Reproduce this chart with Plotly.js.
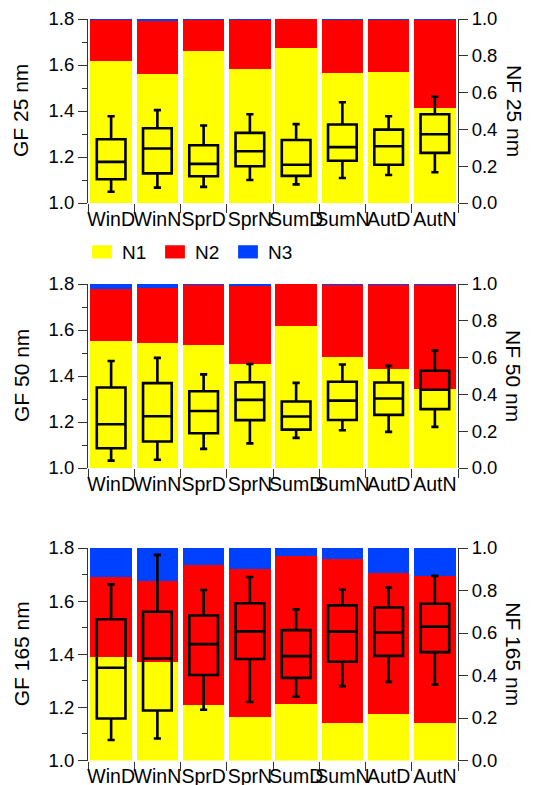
<!DOCTYPE html>
<html>
<head>
<meta charset="utf-8">
<script src="https://cdn.plot.ly/plotly-3.0.1.min.js"></script>
<style>
  html, body { margin: 0; padding: 0; background: #fff; }
  #chart { width: 538px; height: 785px; }
</style>
</head>
<body>
<div id="chart"></div>
<script>
// Seasonal day/night categories
const categories = ['WinD', 'WinN', 'SprD', 'SprN', 'SumD', 'SumN', 'AutD', 'AutN'];
const modeNames = ['N1', 'N2', 'N3'];

// Number fractions of the growth-factor modes (stacked bars, right axis)
const nf25_N1 = [0.770, 0.700, 0.824, 0.730, 0.842, 0.706, 0.711, 0.514];
const nf25_N2 = [0.227, 0.289, 0.173, 0.267, 0.156, 0.287, 0.282, 0.479];
const nf25_N3 = [0.003, 0.011, 0.003, 0.003, 0.002, 0.007, 0.007, 0.007];

const nf50_N1 = [0.688, 0.679, 0.666, 0.563, 0.773, 0.603, 0.537, 0.432];
const nf50_N2 = [0.287, 0.299, 0.330, 0.424, 0.227, 0.390, 0.456, 0.561];
const nf50_N3 = [0.025, 0.022, 0.004, 0.013, 0.000, 0.007, 0.007, 0.007];

const nf165_N1 = [0.487, 0.465, 0.262, 0.204, 0.264, 0.176, 0.217, 0.176];
const nf165_N2 = [0.376, 0.378, 0.658, 0.696, 0.697, 0.772, 0.664, 0.691];
const nf165_N3 = [0.137, 0.157, 0.080, 0.100, 0.039, 0.052, 0.119, 0.133];

// Growth-factor statistics (box plots, left axis)
const gf25_upper  = [1.377, 1.404, 1.337, 1.386, 1.343, 1.438, 1.377, 1.462];
const gf25_q3     = [1.277, 1.325, 1.251, 1.305, 1.274, 1.341, 1.319, 1.386];
const gf25_median = [1.179, 1.237, 1.170, 1.225, 1.166, 1.243, 1.247, 1.299];
const gf25_q1     = [1.103, 1.129, 1.116, 1.160, 1.118, 1.184, 1.166, 1.218];
const gf25_lower  = [1.049, 1.067, 1.070, 1.100, 1.081, 1.109, 1.122, 1.134];

const gf50_upper  = [1.465, 1.479, 1.407, 1.452, 1.370, 1.450, 1.444, 1.511];
const gf50_q3     = [1.350, 1.369, 1.334, 1.373, 1.289, 1.375, 1.372, 1.423];
const gf50_median = [1.190, 1.225, 1.248, 1.296, 1.224, 1.293, 1.302, 1.340];
const gf50_q1     = [1.086, 1.115, 1.151, 1.208, 1.167, 1.209, 1.231, 1.256];
const gf50_lower  = [1.032, 1.036, 1.083, 1.107, 1.131, 1.164, 1.157, 1.179];

const gf165_upper  = [1.663, 1.774, 1.642, 1.691, 1.569, 1.643, 1.651, 1.695];
const gf165_q3     = [1.532, 1.560, 1.546, 1.592, 1.491, 1.584, 1.576, 1.590];
const gf165_median = [1.349, 1.384, 1.438, 1.486, 1.393, 1.485, 1.482, 1.504];
const gf165_q1     = [1.158, 1.188, 1.322, 1.382, 1.311, 1.372, 1.394, 1.408];
const gf165_lower  = [1.077, 1.083, 1.191, 1.220, 1.240, 1.280, 1.296, 1.286];

const sizeLabels = ['25 nm', '50 nm', '165 nm'];

const modeColors = ['#FFFF00', '#FF0000', '#0041FF'];
const FONT = 'Liberation Sans, Arial, sans-serif';
const AXIS_COLOR = '#333333';

const panels = [
  { nf: [nf25_N1, nf25_N2, nf25_N3],
    box: { upper: gf25_upper, q3: gf25_q3, median: gf25_median, q1: gf25_q1, lower: gf25_lower },
    top: 19, bottom: 203 },
  { nf: [nf50_N1, nf50_N2, nf50_N3],
    box: { upper: gf50_upper, q3: gf50_q3, median: gf50_median, q1: gf50_q1, lower: gf50_lower },
    top: 284, bottom: 468 },
  { nf: [nf165_N1, nf165_N2, nf165_N3],
    box: { upper: gf165_upper, q3: gf165_q3, median: gf165_median, q1: gf165_q1, lower: gf165_lower },
    top: 548, bottom: 760.5 }
];

const W = 538, H = 785;
const xDomain = [88 / W, 458 / W];

const traces = [];
const layout = {
  width: W, height: H,
  margin: { l: 0, r: 0, t: 0, b: 0 },
  paper_bgcolor: '#ffffff',
  plot_bgcolor: 'rgba(0,0,0,0)',
  barmode: 'stack',
  bargap: 0.1,
  showlegend: true,
  font: { family: FONT, color: '#000000', size: 18 },
  legend: {
    orientation: 'h',
    x: 82 / W, xanchor: 'left',
    y: 1 - 252 / H, yanchor: 'middle',
    font: { family: FONT, size: 19, color: '#000000' },
    entrywidth: 28, entrywidthmode: 'pixels',
    traceorder: 'normal',
    bgcolor: 'rgba(0,0,0,0)'
  },
  annotations: []
};

panels.forEach((p, i) => {
  const xName = i === 0 ? 'x' : 'x' + (i + 1);
  const nfIdx = 2 * i + 1;           // right-hand NF axis (bars)
  const gfIdx = 2 * i + 2;           // left-hand GF axis (boxes, drawn on top)
  const nfName = nfIdx === 1 ? 'y' : 'y' + nfIdx;
  const gfName = 'y' + gfIdx;
  const yDomain = [1 - p.bottom / H, 1 - p.top / H];

  // stacked number fractions
  p.nf.forEach((vals, k) => {
    traces.push({
      type: 'bar',
      x: categories,
      y: vals,
      name: modeNames[k],
      legendgroup: modeNames[k],
      showlegend: i === 0,
      marker: { color: modeColors[k], line: { width: 0 } },
      xaxis: xName, yaxis: nfName,
      hoverinfo: 'skip'
    });
  });

  // growth-factor boxes with capped whiskers
  traces.push({
    type: 'box',
    x: categories,
    q1: p.box.q1,
    median: p.box.median,
    q3: p.box.q3,
    lowerfence: p.box.lower,
    upperfence: p.box.upper,
    boxpoints: false,
    width: 0.62,
    whiskerwidth: 0.25,
    fillcolor: 'rgba(0,0,0,0)',
    line: { color: '#000000', width: 2.6 },
    showlegend: false,
    xaxis: xName, yaxis: gfName,
    hoverinfo: 'skip'
  });

  const xKey = i === 0 ? 'xaxis' : 'xaxis' + (i + 1);
  const nfKey = nfIdx === 1 ? 'yaxis' : 'yaxis' + nfIdx;
  const gfKey = 'yaxis' + gfIdx;

  layout[xKey] = {
    domain: xDomain,
    anchor: nfName,
    type: 'category',
    range: [-0.5, 7.5],
    tickangle: 0,
    tickson: 'boundaries',
    ticks: 'outside', ticklen: 9, tickwidth: 1, tickcolor: AXIS_COLOR,
    ticklabelstandoff: 2,
    showline: false, showgrid: false, zeroline: false,
    tickfont: { family: FONT, size: 19.5, color: '#000000' },
    fixedrange: true
  };
  layout[nfKey] = {
    domain: yDomain,
    anchor: xName,
    side: 'right',
    range: [0, 1],
    dtick: 0.2, tick0: 0,
    tickformat: '.1f',
    ticks: 'outside', ticklen: 9, tickwidth: 1, tickcolor: AXIS_COLOR,
    showline: true, linecolor: AXIS_COLOR, linewidth: 1,
    showgrid: false, zeroline: false,
    tickfont: { family: FONT, size: 18.5, color: '#000000' },
    fixedrange: true
  };
  layout[gfKey] = {
    overlaying: nfName,
    anchor: xName,
    side: 'left',
    range: [1.0, 1.8],
    dtick: 0.2, tick0: 1.0,
    tickformat: '.1f',
    ticks: 'outside', ticklen: 9, tickwidth: 1, tickcolor: AXIS_COLOR,
    minor: { dtick: 0.1, ticklen: 5, tickcolor: AXIS_COLOR, ticks: 'outside', showgrid: false },
    showline: true, linecolor: AXIS_COLOR, linewidth: 1,
    showgrid: false, zeroline: false,
    tickfont: { family: FONT, size: 18.5, color: '#000000' },
    fixedrange: true
  };

  const yMid = 1 - (p.top + p.bottom) / 2 / H;
  layout.annotations.push({
    xref: 'paper', yref: 'paper',
    x: 21 / W, y: yMid, xanchor: 'center', yanchor: 'middle',
    text: 'GF ' + sizeLabels[i], textangle: -90, showarrow: false,
    font: { family: FONT, size: 21, color: '#000000' }
  });
  layout.annotations.push({
    xref: 'paper', yref: 'paper',
    x: 514 / W, y: yMid, xanchor: 'center', yanchor: 'middle',
    text: 'NF ' + sizeLabels[i], textangle: 90, showarrow: false,
    font: { family: FONT, size: 21, color: '#000000' }
  });
});

Plotly.newPlot('chart', traces, layout, { staticPlot: true, displayModeBar: false })
  .then(gd => {
    // wider, flatter legend swatches (keep Plotly's own placement transform)
    gd.querySelectorAll('.legend .legendpoints path').forEach(el => {
      const base = el.getAttribute('transform') || '';
      el.setAttribute('transform', base + ' scale(1.65,1.1)');
    });
  });
</script>
</body>
</html>
